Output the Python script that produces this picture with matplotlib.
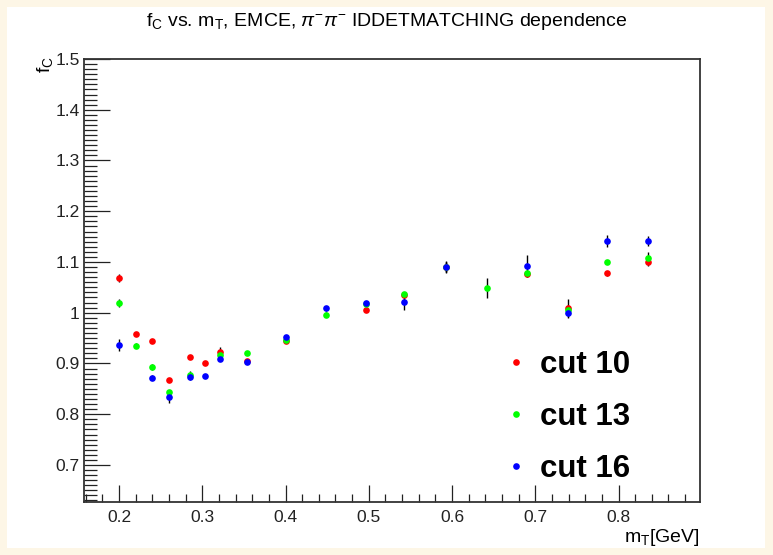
import numpy as np
import matplotlib.pyplot as plt
from matplotlib.lines import Line2D
from matplotlib.patches import Rectangle
from matplotlib.ticker import MultipleLocator

plt.rcParams['font.family'] = ['Liberation Sans', 'DejaVu Sans']
plt.rcParams['mathtext.fontset'] = 'custom'
plt.rcParams['mathtext.rm'] = 'Liberation Sans'
plt.rcParams['mathtext.it'] = 'Liberation Sans:italic'

# mT bin centres [GeV]
m_t = [0.200, 0.220, 0.240, 0.260, 0.285, 0.303, 0.321, 0.354, 0.400,
       0.449, 0.497, 0.542, 0.593, 0.642, 0.690, 0.739, 0.786, 0.835]

nan = np.nan
fc_cut10 = [1.068, 0.958, 0.945, 0.868, 0.913, 0.901, 0.923, 0.905, 0.944,
            nan, 1.006, 1.035, 1.090, nan, 1.076, 1.009, 1.078, 1.100]
err_cut10 = [0.008, 0.004, 0.004, 0.004, 0.004, 0.004, 0.010, 0.004, 0.004,
             nan, 0.004, 0.004, 0.010, nan, 0.005, 0.018, 0.005, 0.008]

fc_cut13 = [1.020, 0.935, 0.893, 0.843, 0.878, nan, 0.917, 0.920, 0.946,
            0.996, 1.017, 1.036, 1.090, 1.049, 1.078, 1.006, 1.100, 1.108]
err_cut13 = [0.008, 0.005, 0.005, 0.005, 0.008, nan, 0.005, 0.004, 0.004,
             0.005, 0.004, 0.004, 0.010, 0.020, 0.005, 0.010, 0.004, 0.012]

fc_cut16 = [0.937, nan, 0.872, 0.833, 0.873, 0.875, 0.909, 0.903, 0.952,
            1.009, 1.019, 1.021, 1.090, nan, 1.092, 0.999, 1.141, 1.141]
err_cut16 = [0.012, nan, 0.005, 0.010, 0.006, 0.004, 0.005, 0.005, 0.004,
             0.005, 0.004, 0.015, 0.012, nan, 0.022, 0.010, 0.012, 0.010]

labels = ["cut 10", "cut 13", "cut 16"]
colors = ["#ff0000", "#00ff00", "#0000ff"]

fig = plt.figure(figsize=(7.73, 5.55), dpi=100)
fig.patch.set_facecolor("#fdf6e6")
fig.patches.append(Rectangle((7 / 773, 7 / 555), 758 / 773, 541 / 555,
                             transform=fig.transFigure, facecolor="white",
                             edgecolor="none", zorder=-10))

ax = fig.add_axes([0.1087, 0.0955, 0.7970, 0.7982])
ax.set_zorder(5)
ax.patch.set_alpha(0)

for fc, err, col in zip([fc_cut10, fc_cut13, fc_cut16],
                        [err_cut10, err_cut13, err_cut16], colors):
    ax.errorbar(m_t, fc, yerr=err, fmt="o", color=col, ecolor="black",
                markersize=4.8, elinewidth=1.0, capsize=2.5, capthick=1.0,
                markeredgewidth=0)

ax.set_xlim(0.158, 0.898)
ax.set_ylim(0.627, 1.5)

ax.xaxis.set_minor_locator(MultipleLocator(0.02))
ax.yaxis.set_minor_locator(MultipleLocator(0.01))
ax.set_yticks([0.7, 0.8, 0.9, 1.0, 1.1, 1.2, 1.3, 1.4, 1.5])
ax.set_yticklabels(["0.7", "0.8", "0.9", "1", "1.1", "1.2", "1.3", "1.4", "1.5"])
ax.set_xticks([0.2, 0.3, 0.4, 0.5, 0.6, 0.7, 0.8])
ax.set_xticklabels(["0.2", "0.3", "0.4", "0.5", "0.6", "0.7", "0.8"])

ax.tick_params(axis="both", which="both", direction="in", top=False,
               right=False, labelsize=12.5, colors="#222222", width=0.9)
ax.tick_params(axis="x", which="major", length=12, pad=6)
ax.tick_params(axis="x", which="minor", length=6)
ax.tick_params(axis="y", which="major", length=19, pad=3)
ax.tick_params(axis="y", which="minor", length=9)
for sp in ax.spines.values():
    sp.set_linewidth(1.3)
    sp.set_color("#333333")

fig.text(0.5, 1 - 22 / 555,
         r"f$_{\mathregular{C}}$ vs. m$_{\mathregular{T}}$, EMCE, "
         r"$\pi^{-}\pi^{-}$ IDDETMATCHING dependence",
         ha="center", va="center", fontsize=14)
fig.text(45 / 773, 1 - 56 / 555, r"f$_{\mathregular{C}}$", rotation=90,
         ha="center", va="top", fontsize=14)
fig.text(700 / 773, 1 - 537 / 555, r"m$_{\mathregular{T}}$[GeV]",
         ha="right", va="center", fontsize=14)

handles = [Line2D([], [], marker="o", linestyle="none", color=c,
                  markersize=4.8, markeredgewidth=0) for c in colors]
ax.legend(handles, labels, loc="center left",
          bbox_to_anchor=(0.635, 0.192), frameon=False,
          prop={"weight": "bold", "size": 22.5}, labelspacing=0.69,
          handletextpad=0.37, handlelength=0.8, borderpad=0.4)

fig.savefig("out.png", dpi=100)
